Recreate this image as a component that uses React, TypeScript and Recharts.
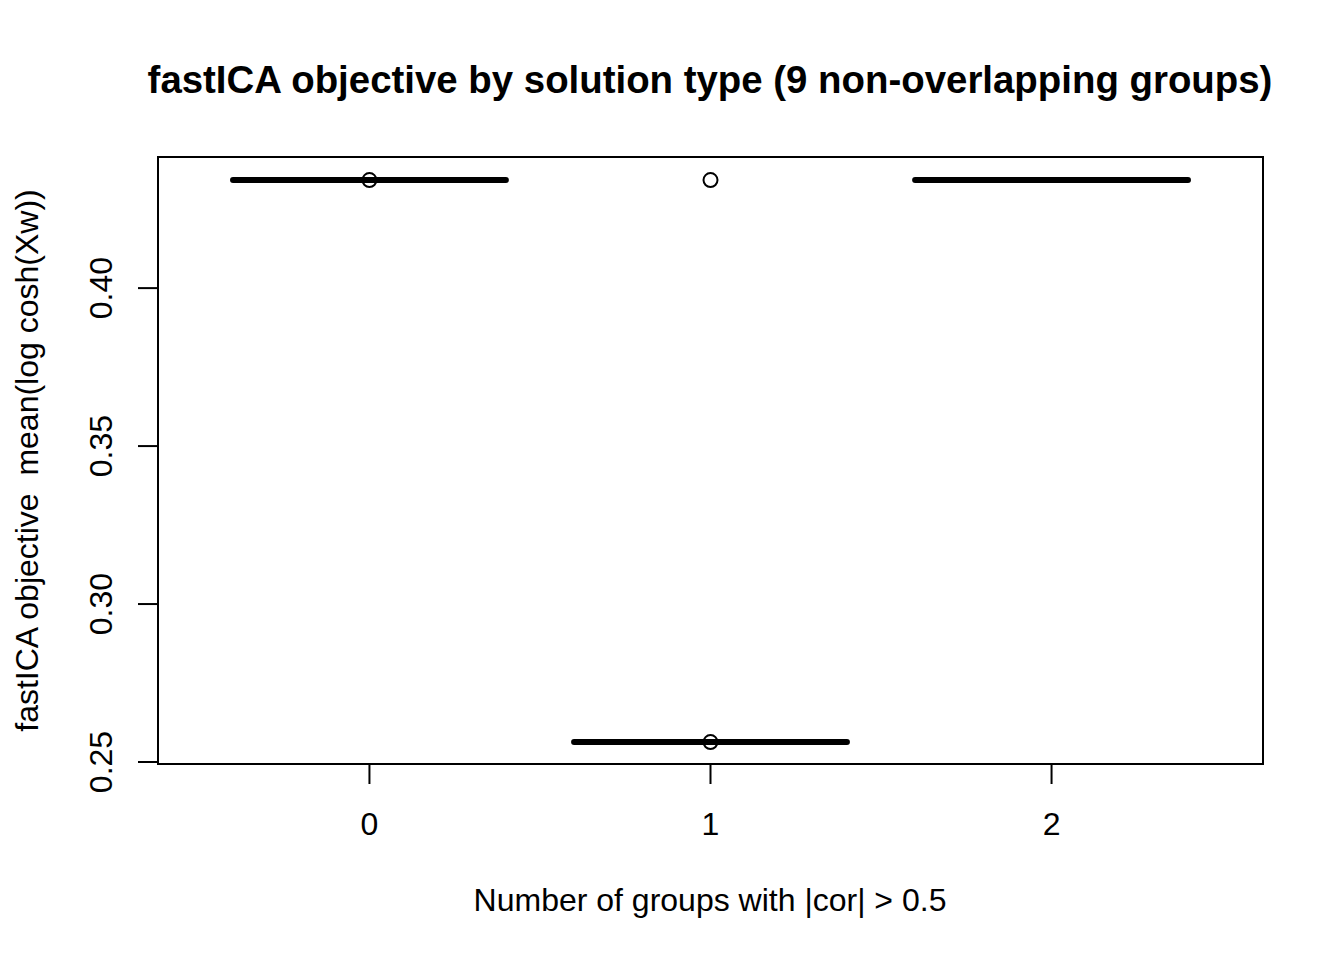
import React from "react";
import {
  ComposedChart,
  XAxis,
  YAxis,
  Scatter,
  ReferenceLine,
  ReferenceArea,
} from "recharts";

// ---- data ----
const groups = [0, 1, 2];
const medians = [0.4342, 0.2563, 0.4342];
const outlierGroups = [0, 1, 1];
const outlierValues = [0.4342, 0.4342, 0.2563];
const xTicks = [0, 1, 2];
const yTicks = [0.25, 0.3, 0.35, 0.4];
const xDomain = [-0.62, 2.62];
const yDomain = [0.24937, 0.4415];
const halfBox = 0.4;

const title = "fastICA objective by solution type (9 non-overlapping groups)";
const xLabel = "Number of groups with |cor| > 0.5";
const yLabel = "fastICA objective  mean(log cosh(Xw))";

const outliers = outlierGroups.map((g, i) => ({ x: g, y: outlierValues[i] }));

const FONT = "'Liberation Sans', Arial, Helvetica, sans-serif";

const XTick = (props: any) => {
  const { x, y, payload } = props;
  return (
    <text x={x} y={y + 49} textAnchor="middle" fontSize={32} fontFamily={FONT} fill="#000">
      {String(payload.value)}
    </text>
  );
};

const YTick = (props: any) => {
  const { x, y, payload } = props;
  const bx = x - 24;
  return (
    <text
      x={bx}
      y={y}
      transform={`rotate(-90 ${bx} ${y})`}
      textAnchor="middle"
      fontSize={32}
      fontFamily={FONT}
      fill="#000"
    >
      {Number(payload.value).toFixed(2)}
    </text>
  );
};

const Circle = (props: any) => {
  const { cx, cy } = props;
  return <circle cx={cx} cy={cy} r={7} fill="none" stroke="#000" strokeWidth={2} />;
};

export default function App() {
  return (
    <div style={{ position: "absolute", left: 0, top: 0, width: 1344, height: 960, background: "#fff" }}>
      <ComposedChart
        width={1344}
        height={960}
        margin={{ top: 157, right: 81, bottom: 136, left: 78 }}
      >
        <XAxis
          type="number"
          dataKey="x"
          domain={xDomain}
          ticks={xTicks}
          allowDataOverflow
          axisLine={false}
          tickSize={20}
          tickLine={{ stroke: "#000", strokeWidth: 2 }}
          tick={<XTick />}
          height={60}
          interval={0}
        />
        <YAxis
          type="number"
          dataKey="y"
          domain={yDomain}
          ticks={yTicks}
          allowDataOverflow
          axisLine={false}
          tickSize={20}
          tickLine={{ stroke: "#000", strokeWidth: 2 }}
          tick={<YTick />}
          width={80}
          interval={0}
        />
        <ReferenceArea
          x1={xDomain[0]}
          x2={xDomain[1]}
          y1={yDomain[0]}
          y2={yDomain[1]}
          fill="none"
          fillOpacity={0}
          stroke="#000"
          strokeWidth={2}
          ifOverflow="visible"
        />
        {groups.map((g, i) => (
          <ReferenceLine
            key={g}
            segment={[
              { x: g - halfBox, y: medians[i] },
              { x: g + halfBox, y: medians[i] },
            ]}
            stroke="#000"
            strokeWidth={6}
            strokeLinecap="round"
            ifOverflow="visible"
          />
        ))}
        <Scatter data={outliers} dataKey="y" shape={<Circle />} isAnimationActive={false} />
      </ComposedChart>
      <svg
        width={1344}
        height={960}
        style={{ position: "absolute", left: 0, top: 0, pointerEvents: "none" }}
      >
        <text x={710} y={93} textAnchor="middle" fontSize={38.4} fontWeight="bold" fontFamily={FONT} fill="#000">
          {title}
        </text>
        <text x={710} y={911} textAnchor="middle" fontSize={32} fontFamily={FONT} fill="#000">
          {xLabel}
        </text>
        <text
          x={38}
          y={460.5}
          transform="rotate(-90 38 460.5)"
          textAnchor="middle"
          fontSize={32}
          fontFamily={FONT}
          fill="#000"
          style={{ whiteSpace: "pre" }}
        >
          {yLabel}
        </text>
      </svg>
    </div>
  );
}
